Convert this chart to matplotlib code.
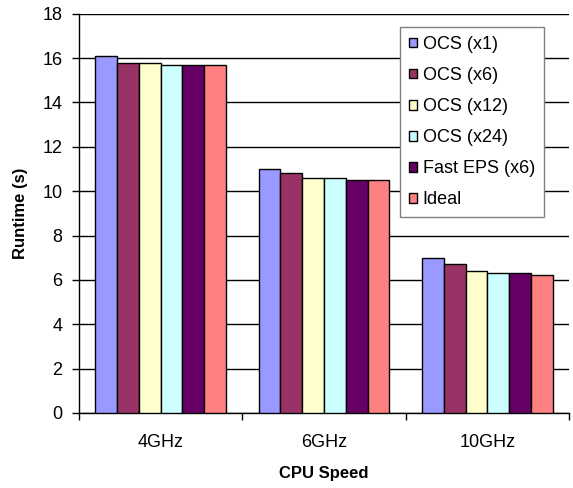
import matplotlib.pyplot as plt
import numpy as np

plt.rcParams['font.family'] = ['Liberation Sans', 'DejaVu Sans']

categories = ['4GHz', '6GHz', '10GHz']
series_names = ['OCS (x1)', 'OCS (x6)', 'OCS (x12)', 'OCS (x24)', 'Fast EPS (x6)', 'Ideal']
ocs_x1 = [16.1, 11.0, 7.0]
ocs_x6 = [15.8, 10.8, 6.7]
ocs_x12 = [15.8, 10.6, 6.4]
ocs_x24 = [15.7, 10.6, 6.3]
fast_eps_x6 = [15.7, 10.5, 6.3]
ideal = [15.7, 10.5, 6.2]
colors = ['#9999FF', '#993366', '#FFFFCC', '#CCFFFF', '#660066', '#FF8080']

values = [ocs_x1, ocs_x6, ocs_x12, ocs_x24, fast_eps_x6, ideal]

fig = plt.figure(figsize=(5.73, 4.88), dpi=100)
ax = fig.add_axes([0.1379, 0.1537, 0.8551, 0.8182])

x = np.arange(len(categories))
n = len(values)
w = 0.8 / n
for i, (vals, name, c) in enumerate(zip(values, series_names, colors)):
    ax.bar(x - 0.4 + w * (i + 0.5), vals, width=w, color=c, edgecolor='black',
           linewidth=1, label=name, zorder=3)

ax.set_xlim(-0.5, len(categories) - 0.5)
ax.set_ylim(0, 18)
ax.set_yticks(np.arange(0, 19, 2))
ax.set_xticks(x)
ax.set_xticklabels(categories, fontsize=13)
ax.set_xticks(np.arange(-0.5, len(categories), 1), minor=True)
ax.tick_params(axis='x', which='major', length=0, pad=15)
ax.tick_params(axis='x', which='minor', length=5, width=1, direction='out')
ax.tick_params(axis='y', length=5, width=1, labelsize=13, pad=7)

ax.grid(axis='y', color='black', linewidth=1, zorder=0)
for side in ['top', 'right']:
    ax.spines[side].set_visible(False)
ax.spines['left'].set_linewidth(1)
ax.spines['bottom'].set_linewidth(1)

ax.set_ylabel('Runtime (s)', fontsize=12, fontweight='bold', labelpad=10)
ax.set_xlabel('CPU Speed', fontsize=12, fontweight='bold', labelpad=11)

leg = ax.legend(loc='upper left', bbox_to_anchor=(0.655, 0.967), fontsize=13,
                fancybox=False, frameon=True, edgecolor='#808080', framealpha=1,
                handlelength=0.45, handleheight=0.45, handletextpad=0.3,
                labelspacing=0.78, borderpad=0.5, borderaxespad=0)
leg.get_frame().set_linewidth(1)
leg.set_zorder(5)

plt.savefig('out.png', dpi=100)
